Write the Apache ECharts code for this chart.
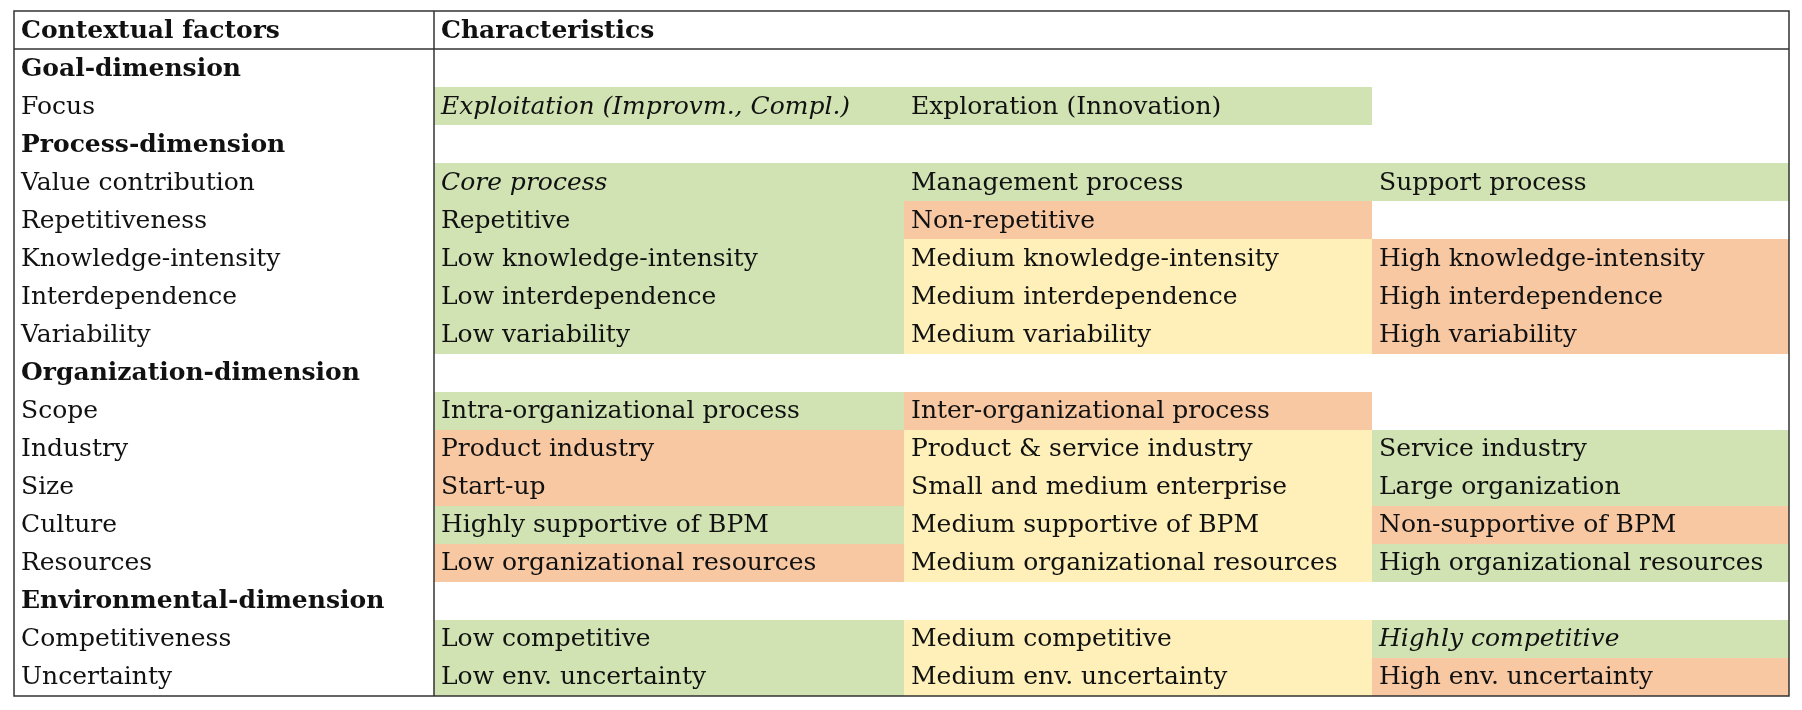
<!DOCTYPE html>
<html>
<head>
<meta charset="utf-8">
<script src="https://cdn.jsdelivr.net/npm/echarts@6/dist/echarts.min.js"></script>
<style>
  html, body { margin: 0; padding: 0; background: #fff; }
  #chart { width: 1802px; height: 710px; }
</style>
</head>
<body>
<div id="chart"></div>
<script>
// header + factor rows; bold = dimension title
const headers = ['Contextual factors', 'Characteristics'];
const factors = [
  ['Goal-dimension', true],
  ['Focus', false],
  ['Process-dimension', true],
  ['Value contribution', false],
  ['Repetitiveness', false],
  ['Knowledge-intensity', false],
  ['Interdependence', false],
  ['Variability', false],
  ['Organization-dimension', true],
  ['Scope', false],
  ['Industry', false],
  ['Size', false],
  ['Culture', false],
  ['Resources', false],
  ['Environmental-dimension', true],
  ['Competitiveness', false],
  ['Uncertainty', false]
];
// characteristic cells: [row, col, text, colour, italic]
const cells = [
  [1, 1, 'Exploitation (Improvm., Compl.)', 'g', true],
  [1, 2, 'Exploration (Innovation)', 'g', false],
  [3, 1, 'Core process', 'g', true],
  [3, 2, 'Management process', 'g', false],
  [3, 3, 'Support process', 'g', false],
  [4, 1, 'Repetitive', 'g', false],
  [4, 2, 'Non-repetitive', 'o', false],
  [5, 1, 'Low knowledge-intensity', 'g', false],
  [5, 2, 'Medium knowledge-intensity', 'y', false],
  [5, 3, 'High knowledge-intensity', 'o', false],
  [6, 1, 'Low interdependence', 'g', false],
  [6, 2, 'Medium interdependence', 'y', false],
  [6, 3, 'High interdependence', 'o', false],
  [7, 1, 'Low variability', 'g', false],
  [7, 2, 'Medium variability', 'y', false],
  [7, 3, 'High variability', 'o', false],
  [9, 1, 'Intra-organizational process', 'g', false],
  [9, 2, 'Inter-organizational process', 'o', false],
  [10, 1, 'Product industry', 'o', false],
  [10, 2, 'Product & service industry', 'y', false],
  [10, 3, 'Service industry', 'g', false],
  [11, 1, 'Start-up', 'o', false],
  [11, 2, 'Small and medium enterprise', 'y', false],
  [11, 3, 'Large organization', 'g', false],
  [12, 1, 'Highly supportive of BPM', 'g', false],
  [12, 2, 'Medium supportive of BPM', 'y', false],
  [12, 3, 'Non-supportive of BPM', 'o', false],
  [13, 1, 'Low organizational resources', 'o', false],
  [13, 2, 'Medium organizational resources', 'y', false],
  [13, 3, 'High organizational resources', 'g', false],
  [15, 1, 'Low competitive', 'g', false],
  [15, 2, 'Medium competitive', 'y', false],
  [15, 3, 'Highly competitive', 'g', true],
  [16, 1, 'Low env. uncertainty', 'g', false],
  [16, 2, 'Medium env. uncertainty', 'y', false],
  [16, 3, 'High env. uncertainty', 'o', false]
];

const colEdges = [0, 420, 890, 1358, 1775];
const fills = { g: '#d1e3b3', o: '#f8c8a3', y: '#fef0b8' };
const FONT = '"DejaVu Serif", "Liberation Serif", serif';
const nRows = factors.length + 1;

// all texts as items: [x0, x1, rowTop, text, fill, italic, bold]
const items = [];
items.push([colEdges[0], colEdges[1], 0, headers[0], null, false, true]);
items.push([colEdges[1], colEdges[4], 0, headers[1], null, false, true]);
factors.forEach((f, i) => items.push([colEdges[0], colEdges[1], i + 1, f[0], null, false, f[1]]));
cells.forEach(c => items.push([colEdges[c[1]], colEdges[c[1] + 1], c[0] + 1, c[2], fills[c[3]], c[4], false]));

const chart = echarts.init(document.getElementById('chart'));
chart.setOption({
  animation: false,
  grid: { left: 14, right: 13, top: 11, bottom: 14 },
  xAxis: { type: 'value', min: 0, max: 1775, show: false },
  yAxis: { type: 'value', min: 0, max: nRows, inverse: true, show: false },
  series: [
    {
      type: 'custom',
      data: items,
      renderItem: function (params, api) {
        const p0 = api.coord([api.value(0), api.value(2)]);
        const p1 = api.coord([api.value(1), api.value(2) + 1]);
        const d = items[params.dataIndex];
        const children = [];
        if (d[4]) {
          const x0 = Math.round(p0[0]), y0 = Math.round(p0[1]);
          children.push({
            type: 'rect',
            shape: { x: x0, y: y0, width: Math.round(p1[0]) - x0, height: Math.round(p1[1]) - y0 },
            style: { fill: d[4] }
          });
        }
        children.push({
          type: 'text',
          style: {
            x: p0[0] + 7, y: (p0[1] + p1[1]) / 2 + 1,
            text: d[3],
            fill: '#111',
            font: (d[5] ? 'italic ' : '') + (d[6] ? 'bold ' : '') + '25px ' + FONT,
            verticalAlign: 'middle'
          }
        });
        return { type: 'group', children: children };
      }
    },
    {
      // table rules
      type: 'custom',
      data: [[0]],
      z: 5,
      renderItem: function (params, api) {
        const tl = api.coord([0, 0]);
        const br = api.coord([1775, nRows]);
        const h = api.coord([0, 1]);
        const v = api.coord([colEdges[1], 0]);
        const ls = { stroke: '#333', lineWidth: 1.5, fill: null };
        return {
          type: 'group',
          children: [
            { type: 'rect', shape: { x: tl[0], y: tl[1], width: br[0] - tl[0], height: br[1] - tl[1] }, style: ls },
            { type: 'line', shape: { x1: tl[0], y1: h[1], x2: br[0], y2: h[1] }, style: ls },
            { type: 'line', shape: { x1: v[0], y1: tl[1], x2: v[0], y2: br[1] }, style: ls }
          ]
        };
      }
    }
  ]
});
</script>
</body>
</html>
